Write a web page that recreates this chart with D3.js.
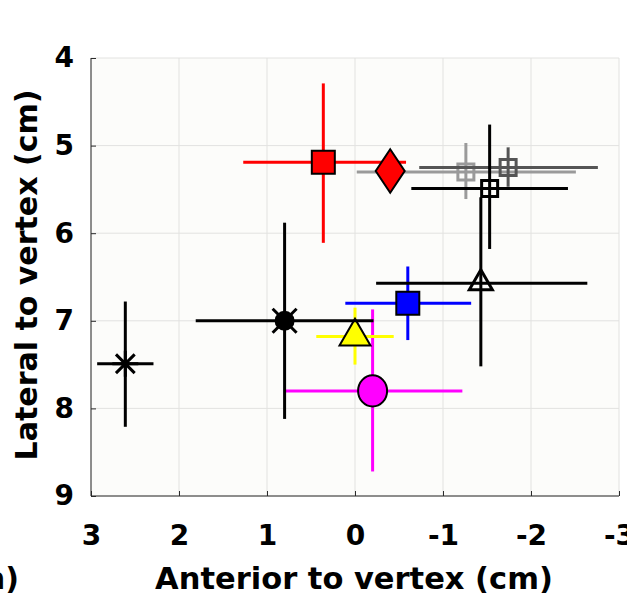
<!DOCTYPE html>
<html>
  <head>
    <meta charset="utf-8">
    <title>Lateral vs anterior to vertex</title>
    <style type="text/css">
     html, body {
       margin: 0;
       padding: 0;
       background: #fff;
     }
     svg text {
       font-family: "DejaVu Sans", sans-serif;
       font-weight: bold;
       fill: #000;
     }
     .grid line {
       stroke: #e2e2e0;
       stroke-width: 1px;
     }
     .axis path, .axis line {
       stroke: #2b2b2b;
     }
    </style>
  </head>
  <body>
    <svg width="627" height="594"></svg>
    <script src="https://cdn.jsdelivr.net/npm/d3@7"></script>
    <script>
     // (cm)
     var ids  = ["asterisk", "magenta", "yellow", "blackCircle", "blue", "openTriangle",
                 "lightGray", "darkGray", "blackSquare", "redSquare", "redDiamond"];
     var xs   = [ 2.61, -0.20,  0.00,  0.80, -0.60, -1.43, -1.26, -1.74, -1.53,  0.36, -0.40];
     var ys   = [ 7.49,  7.80,  7.18,  7.00,  6.80,  6.57,  5.30,  5.25,  5.49,  5.19,  5.29];
     var xLo  = [ 2.93,  0.80,  0.44,  1.81,  0.11, -0.24, -0.02, -0.73, -0.64,  1.27, null];
     var xHi  = [ 2.29, -1.22, -0.44, -0.21, -1.32, -2.64, -2.51, -2.76, -2.42, -0.58, null];
     var yLo  = [ 6.78,  6.87,  6.85,  5.88,  6.38,  5.59,  4.97,  5.02,  4.76,  4.29, null];
     var yHi  = [ 8.21,  8.72,  7.50,  8.12,  7.22,  7.52,  5.61,  5.47,  6.18,  6.11, null];

     var xTicks = [3, 2, 1, 0, -1, -2, -3];
     var yTicks = [4, 5, 6, 7, 8, 9];

     var styles = {
       asterisk:     {color: "#000",    marker: "star",     size: 13},
       magenta:      {color: "#ff00ff", marker: "circle",   size: 14.5, fill: "#ff00ff"},
       yellow:       {color: "#ffff00", marker: "triangle", size: 31,   fill: "#ffff00"},
       blackCircle:  {color: "#000",    marker: "circlex",  size: 10},
       blue:         {color: "#0000ff", marker: "square",   size: 23,   fill: "#0000ff"},
       openTriangle: {color: "#000",    marker: "triangle", size: 23,   fill: "none", edge: "#000"},
       lightGray:    {color: "#9a9a9a", marker: "square",   size: 16,   fill: "none", edge: "#9a9a9a"},
       darkGray:     {color: "#555555", marker: "square",   size: 16,   fill: "none", edge: "#555555"},
       blackSquare:  {color: "#000",    marker: "square",   size: 16,   fill: "none", edge: "#000"},
       redSquare:    {color: "#ff0000", marker: "square",   size: 23,   fill: "#ff0000"},
       redDiamond:   {color: "#ff0000", marker: "diamond",  size: 29,   fill: "#ff0000"}
     };

     var svg = d3.select("svg");

     var plotL = 91, plotR = 619, plotT = 58, plotB = 496;

     var x = d3.scaleLinear().domain([3, -3]).range([plotL, plotR]);
     var y = d3.scaleLinear().domain([4, 9]).range([plotT, plotB]);

     svg.append("rect")
        .attr("x", plotL).attr("y", plotT)
        .attr("width", plotR - plotL).attr("height", plotB - plotT)
        .attr("fill", "#fcfcfa");

     var grid = svg.append("g").attr("class", "grid");
     grid.selectAll(".gx").data(xTicks).enter().append("line")
         .attr("x1", d => x(d)).attr("x2", d => x(d))
         .attr("y1", plotT).attr("y2", plotB);
     grid.selectAll(".gy").data(yTicks).enter().append("line")
         .attr("y1", d => y(d)).attr("y2", d => y(d))
         .attr("x1", plotL).attr("x2", plotR);

     var fmt = d => String(d);

     var xAxis = svg.append("g")
                    .attr("class", "axis")
                    .attr("transform", `translate(0,${plotB})`)
                    .call(d3.axisBottom(x).tickValues(xTicks).tickSize(-5).tickSizeOuter(0)
                            .tickPadding(29).tickFormat(fmt));
     xAxis.selectAll("text").style("font-size", "28px");

     var yAxis = svg.append("g")
                    .attr("class", "axis")
                    .attr("transform", `translate(${plotL},0)`)
                    .call(d3.axisLeft(y).tickValues(yTicks).tickSize(-5).tickSizeOuter(0)
                            .tickPadding(17).tickFormat(fmt));
     yAxis.selectAll("text").style("font-size", "28px");
     // only left and bottom frame lines are dark
     xAxis.select(".domain").attr("d", `M${plotL},0H${plotR}`);
     yAxis.select(".domain").attr("d", `M0,${plotT}V${plotB}`);

     svg.append("text")
        .attr("x", 354).attr("y", 589)
        .attr("text-anchor", "middle")
        .style("font-size", "30.5px")
        .text("Anterior to vertex (cm)");

     svg.append("text")
        .attr("transform", "translate(37,275) rotate(-90)")
        .attr("text-anchor", "middle")
        .style("font-size", "30px")
        .text("Lateral to vertex (cm)");

     // clipped piece of the neighbouring panel's label
     svg.append("text")
        .attr("x", 19).attr("y", 589)
        .attr("text-anchor", "end")
        .style("font-size", "30px")
        .text("(cm)");

     function markerPath(s) {
       var r = s.size;
       switch (s.marker) {
         case "square":
           return `M${-r/2},${-r/2}h${r}v${r}h${-r}Z`;
         case "diamond":
           return `M0,${-r*0.75}L${r/2},0L0,${r*0.75}L${-r/2},0Z`;
         case "triangle":
           return d3.symbol(d3.symbolTriangle, Math.sqrt(3) / 4 * r * r)();
         case "circle":
           return `M${-r},0A${r},${r*1.07} 0 1,0 ${r},0A${r},${r*1.07} 0 1,0 ${-r},0Z`;
       }
     }

     var series = ids.map((id, i) => ({id: id, x: xs[i], y: ys[i],
                                        xLo: xLo[i], xHi: xHi[i], yLo: yLo[i], yHi: yHi[i]}));

     var g = svg.append("g")
                .selectAll("g")
                .data(series)
                .enter().append("g")
                .attr("class", d => d.id);

     g.filter(d => d.xLo !== null).append("line")
      .attr("x1", d => x(d.xLo)).attr("x2", d => x(d.xHi))
      .attr("y1", d => y(d.y)).attr("y2", d => y(d.y))
      .attr("stroke", d => styles[d.id].color)
      .attr("stroke-width", 3);

     g.filter(d => d.yLo !== null).append("line")
      .attr("x1", d => x(d.x)).attr("x2", d => x(d.x))
      .attr("y1", d => y(d.yLo)).attr("y2", d => y(d.yHi))
      .attr("stroke", d => styles[d.id].color)
      .attr("stroke-width", 3);

     g.each(function(d) {
       var s = styles[d.id],
           sel = d3.select(this),
           cx = x(d.x), cy = y(d.y);
       if (s.marker == "star") {
         var r = s.size;
         sel.append("path")
            .attr("d", `M${-r},0H${r}M0,${-r}V${r}M${-r*0.72},${-r*0.72}L${r*0.72},${r*0.72}M${-r*0.72},${r*0.72}L${r*0.72},${-r*0.72}`)
            .attr("transform", `translate(${cx},${cy})`)
            .attr("stroke", "#000").attr("stroke-width", 3).attr("fill", "none");
       } else if (s.marker == "circlex") {
         var r = s.size, a = 12;
         sel.append("circle")
            .attr("cx", cx).attr("cy", cy).attr("r", r)
            .attr("fill", "#000");
         sel.append("path")
            .attr("d", `M${-a},${-a}L${a},${a}M${-a},${a}L${a},${-a}`)
            .attr("transform", `translate(${cx},${cy})`)
            .attr("stroke", "#000").attr("stroke-width", 3);
       } else {
         sel.append("path")
            .attr("d", markerPath(s))
            .attr("transform", `translate(${cx},${cy})`)
            .attr("fill", s.fill)
            .attr("stroke", s.edge || "#000")
            .attr("stroke-width", s.fill == "none" ? 3 : 2);
       }
     });
    </script>
  </body>
</html>
